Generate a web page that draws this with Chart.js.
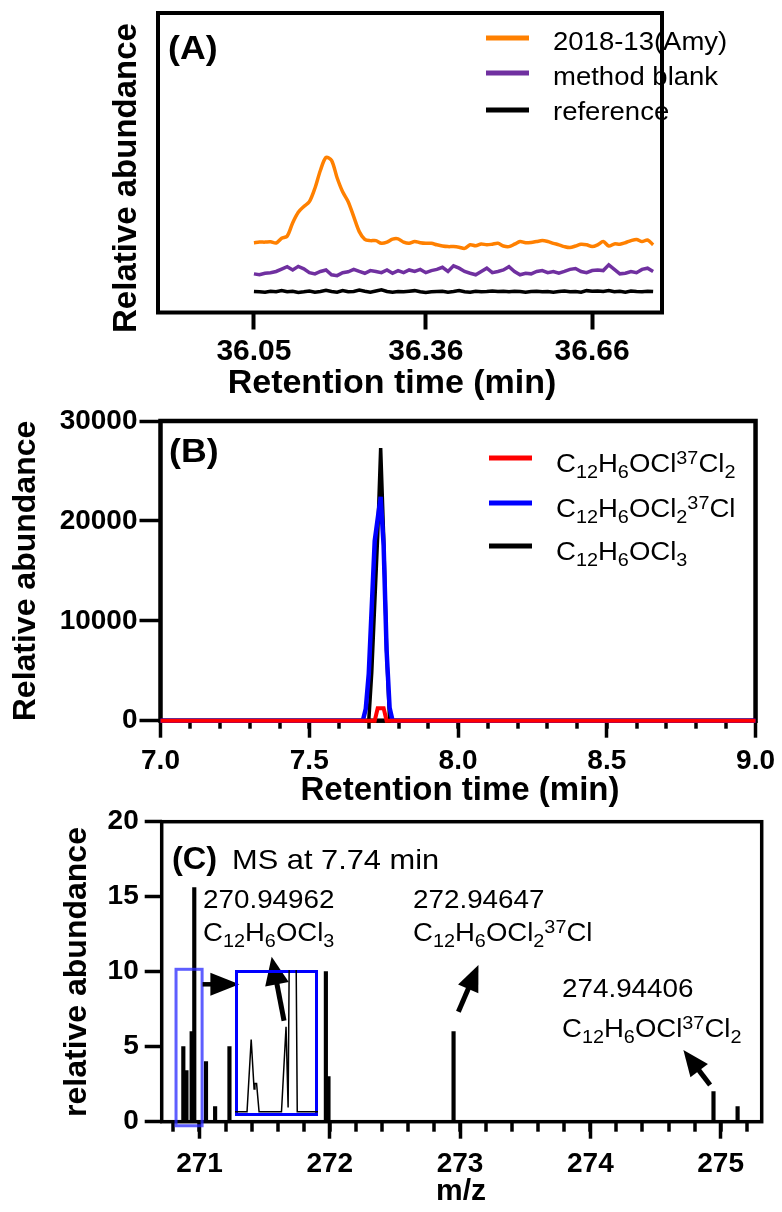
<!DOCTYPE html>
<html>
<head>
<meta charset="utf-8">
<script src="https://cdn.jsdelivr.net/npm/chart.js@4.4.0/dist/chart.umd.min.js"></script>
<style>
  body { margin: 0; background: #fff; }
  #wrap { position: relative; width: 782px; height: 1212px; overflow: hidden; }
  #wrap canvas { position: absolute; left: 0; top: 0; }
  #wrap #inset { left: 235px; top: 970px; }
</style>
</head>
<body>
<div id="wrap">
  <canvas id="chartA" width="782" height="1212"></canvas>
  <canvas id="chartB" width="782" height="1212"></canvas>
  <canvas id="chartC" width="782" height="1212"></canvas>
  <canvas id="inset" width="83" height="146"></canvas>
</div>
<script>
// ---- panel A: extracted ion chromatograms (arbitrary units) ----
var timeA = [36.05,36.06,36.07,36.08,36.09,36.10,36.11,36.12,36.13,36.14,
  36.15,36.16,36.17,36.18,36.19,36.20,36.21,36.22,36.23,36.24,
  36.25,36.26,36.27,36.28,36.29,36.30,36.31,36.32,36.33,36.34,
  36.35,36.36,36.37,36.38,36.39,36.40,36.41,36.42,36.43,36.44,
  36.45,36.46,36.47,36.48,36.49,36.50,36.51,36.52,36.53,36.54,
  36.55,36.56,36.57,36.58,36.59,36.60,36.61,36.62,36.63,36.64,
  36.65,36.66,36.67,36.68,36.69,36.70,36.71,36.72,36.73,36.74,
  36.75,36.76,36.77];
var sampleA = [23.3,23.5,23.5,23.6,23.2,24.8,25.5,30.0,33.5,35.4,
  37.0,41.5,47.5,51.8,50.8,45.0,40.3,37.0,32.0,27.0,
  24.4,24.0,24.0,23.1,23.5,24.5,24.6,23.5,23.1,23.7,
  23.3,23.1,23.1,22.6,22.2,22.0,22.0,21.8,21.4,22.6,
  22.3,22.9,22.6,22.8,23.1,22.2,22.0,22.8,23.7,23.3,
  23.4,23.7,24.0,23.7,23.1,22.6,22.0,21.7,22.2,22.8,
  22.6,22.0,22.6,23.7,22.2,22.9,22.8,23.3,24.0,24.4,
  23.7,24.2,22.6];
var blankA = [12.9,12.6,13.1,13.3,13.7,14.5,15.3,14.2,15.4,14.6,
  13.3,12.9,13.7,14.2,12.6,12.3,13.3,13.6,14.4,13.7,
  13.1,14.0,13.7,13.3,14.2,13.1,14.0,13.3,14.2,13.7,
  14.4,13.3,14.0,14.4,15.1,13.7,15.6,14.8,13.7,13.1,
  12.6,13.7,14.8,13.3,13.7,14.2,15.3,13.7,12.6,13.1,
  12.9,13.7,14.0,13.3,13.7,13.1,13.7,14.4,14.7,13.7,
  13.3,14.0,14.2,14.0,15.9,14.4,12.9,13.1,13.7,13.3,
  14.4,14.8,13.7];
var refA = [7.0,6.9,6.8,7.1,6.9,7.3,6.9,7.1,6.7,6.9,
  7.2,6.8,7.0,7.4,7.0,6.8,7.3,6.9,7.0,7.5,
  7.1,6.8,7.2,7.6,7.0,6.8,7.0,6.9,7.1,7.3,
  6.9,6.7,6.9,7.0,7.1,6.8,7.0,7.3,6.9,6.8,
  7.1,6.9,7.0,7.2,7.0,7.1,6.9,7.1,7.0,6.8,
  7.0,7.1,6.9,7.0,6.8,7.0,7.2,6.9,7.0,6.8,
  7.3,7.1,7.2,7.0,7.3,6.9,7.1,6.8,7.2,7.0,
  6.9,7.1,7.0];
var ticksA = [36.05, 36.36, 36.66];

// ---- panel B: chromatogram of the three isotopologues ----
var timeB37x2 = [7.0, 7.72, 7.73, 7.75, 7.76, 9.0];
var valB37x2  = [0, 0, 1250, 1250, 0, 0];
var timeB37   = [7.0, 7.68, 7.69, 7.70, 7.72, 7.74, 7.75, 7.76, 7.77, 7.78, 9.0];
var valB37    = [0, 0, 1200, 4700, 18000, 22400, 17500, 7000, 1300, 0, 0];
var timeB35   = [7.0, 7.70, 7.71, 7.73, 7.74, 7.75, 7.76, 7.77, 9.0];
var valB35    = [0, 0, 4800, 18500, 27300, 18500, 7000, 0, 0];

// ---- panel C: mass spectrum at 7.74 min ----
var mzC  = [270.876, 270.90, 270.94, 270.96, 271.05, 271.12, 271.23, 271.97, 271.99, 272.95, 274.945, 275.13];
var absC = [5.0, 3.4, 6.0, 15.6, 4.0, 1.0, 5.0, 10.0, 3.0, 6.0, 2.0, 1.0];
var ticksC = [271, 272, 273, 274, 275];
// inset: profile of the 270.8-271.0 region
var mzInset  = [270.820, 270.849, 270.859, 270.866, 270.868, 270.872, 270.875, 270.878, 270.932, 270.943, 270.948, 270.952, 270.966, 270.970, 271.020];
var absInset = [0, 0, 5.1, 1.6, 2.0, 2.0, 1.0, 0, 0, 6.0, 0.3, 16, 16, 0, 0];

var SANS = '"Liberation Sans", Arial, Helvetica, sans-serif';
Chart.defaults.font.family = SANS;
Chart.defaults.font.weight = 'bold';
Chart.defaults.font.size = 28;
Chart.defaults.color = '#000';

function pts(xs, ys) { return xs.map(function (x, i) { return {x: x, y: ys[i]}; }); }

// text with _{sub} and ^{sup}
function rich(ctx, str, x, y, size, weight, sx) {
  var parts = [], re = /([_^])\{([^}]*)\}|([^_^]+)/g, m;
  while ((m = re.exec(str))) {
    if (m[3]) parts.push({t: m[3], k: 0});
    else parts.push({t: m[2], k: m[1] === '_' ? 1 : -1});
  }
  ctx.save();
  ctx.translate(x, y);
  ctx.scale(sx || 1, 1);
  ctx.textBaseline = 'alphabetic';
  ctx.textAlign = 'left';
  ctx.fillStyle = '#000';
  var cx = 0;
  parts.forEach(function (p) {
    var fs = p.k ? size * 0.72 : size;
    ctx.font = (weight || 'normal') + ' ' + fs + 'px ' + SANS;
    var dy = p.k === 1 ? size * 0.22 : (p.k === -1 ? -size * 0.3 : 0);
    ctx.fillText(p.t, cx, dy);
    cx += ctx.measureText(p.t).width;
  });
  ctx.restore();
}
function vtitle(ctx, text, x, y, size) {
  ctx.save();
  ctx.translate(x, y);
  ctx.rotate(-Math.PI / 2);
  ctx.font = 'bold ' + size + 'px ' + SANS;
  ctx.textAlign = 'center';
  ctx.textBaseline = 'middle';
  ctx.fillStyle = '#000';
  ctx.fillText(text, 0, 0);
  ctx.restore();
}
function htitle(ctx, text, x, y, size) {
  ctx.save();
  ctx.font = 'bold ' + size + 'px ' + SANS;
  ctx.textAlign = 'center';
  ctx.textBaseline = 'middle';
  ctx.fillStyle = '#000';
  ctx.fillText(text, x, y);
  ctx.restore();
}
function frame(lw) {
  return {
    id: 'frame',
    beforeDatasetsDraw: function (chart) {
      var a = chart.chartArea, ctx = chart.ctx;
      ctx.save();
      ctx.lineWidth = lw;
      ctx.strokeStyle = '#000';
      ctx.strokeRect(a.left, a.top, a.right - a.left, a.bottom - a.top);
      ctx.restore();
    }
  };
}
function minorTicks(from, to, step, len, lw) {
  return {
    id: 'minor',
    beforeDatasetsDraw: function (chart) {
      var sx = chart.scales.x, b = chart.chartArea.bottom, ctx = chart.ctx;
      ctx.save();
      ctx.strokeStyle = '#000';
      ctx.lineWidth = lw;
      for (var v = from; v <= to + 1e-9; v += step) {
        var p = Math.round(sx.getPixelForValue(v));
        ctx.beginPath(); ctx.moveTo(p, b); ctx.lineTo(p, b + len); ctx.stroke();
      }
      ctx.restore();
    }
  };
}
function legendLines(x0, x1, rows, textX, lw, size, sx) {
  return {
    id: 'legendLines',
    afterDraw: function (chart) {
      var ctx = chart.ctx;
      chart.data.datasets.forEach(function (ds, i) {
        var r = rows[i];
        ctx.save();
        ctx.strokeStyle = ds.borderColor;
        ctx.lineWidth = lw;
        ctx.beginPath(); ctx.moveTo(x0, r[0]); ctx.lineTo(x1, r[0]); ctx.stroke();
        ctx.restore();
        rich(ctx, ds.label, textX, r[1], size, 'normal', sx);
      });
    }
  };
}
function arrow(ctx, x1, y1, x2, y2, hl, hw, lw) {
  var dx = x2 - x1, dy = y2 - y1, L = Math.sqrt(dx * dx + dy * dy);
  var ux = dx / L, uy = dy / L, bx = x2 - ux * hl, by = y2 - uy * hl;
  ctx.save();
  ctx.strokeStyle = '#000'; ctx.fillStyle = '#000'; ctx.lineWidth = lw;
  ctx.beginPath(); ctx.moveTo(x1, y1); ctx.lineTo(bx + ux, by + uy); ctx.stroke();
  ctx.beginPath();
  ctx.moveTo(x2, y2);
  ctx.lineTo(bx - uy * hw / 2, by + ux * hw / 2);
  ctx.lineTo(bx + uy * hw / 2, by - ux * hw / 2);
  ctx.closePath(); ctx.fill();
  ctx.restore();
}

var lineDs = {pointRadius: 0, fill: false, tension: 0, clip: 6};

// ================= A =================
new Chart(document.getElementById('chartA'), {
  type: 'line',
  data: {
    datasets: [
      Object.assign({label: '2018-13(Amy)', data: pts(timeA, sampleA), borderColor: '#ff8000', borderWidth: 3.5, tension: 0.3}, {pointRadius: 0, fill: false, clip: 6}),
      Object.assign({label: 'method blank', data: pts(timeA, blankA), borderColor: '#7030a0', borderWidth: 3.5}, lineDs),
      Object.assign({label: 'reference', data: pts(timeA, refA), borderColor: '#000000', borderWidth: 3.5}, lineDs)
    ]
  },
  options: {
    responsive: false, animation: false,
    layout: {padding: {top: 13, right: 120, bottom: 812, left: 0}},
    plugins: {legend: {display: false}, tooltip: {enabled: false}},
    scales: {
      x: {
        type: 'linear', min: 35.877, max: 36.786,
        afterBuildTicks: function (s) { s.ticks = ticksA.map(function (v) { return {value: v}; }); },
        afterFit: function (s) { s.height = 87.5; },
        border: {display: false},
        grid: {drawOnChartArea: false, tickLength: 17, tickWidth: 4, tickColor: '#000'},
        ticks: {font: {size: 30}, padding: 4, maxRotation: 0, callback: function (v) { return v.toFixed(2); }}
      },
      y: {
        min: 0, max: 100,
        afterFit: function (s) { s.width = 158; },
        border: {display: false},
        grid: {display: false},
        ticks: {display: false}
      }
    }
  },
  plugins: [frame(4), legendLines(486, 529, [[38, 50], [73, 85], [110, 120]], 553, 5, 25, 1.1), {
    id: 'labelsA',
    afterDraw: function (chart) {
      var ctx = chart.ctx;
      vtitle(ctx, 'Relative abundance', 127, 178, 33);
      htitle(ctx, 'Retention time (min)', 392, 384, 34);
      rich(ctx, '(A)', 168, 59, 34, 'bold', 1.05);
    }
  }]
});

// ================= B =================
new Chart(document.getElementById('chartB'), {
  type: 'line',
  data: {
    datasets: [
      Object.assign({label: 'C_{12}H_{6}OCl^{37}Cl_{2}', data: pts(timeB37x2, valB37x2), borderColor: '#ff0000', borderWidth: 4}, lineDs),
      Object.assign({label: 'C_{12}H_{6}OCl_{2}^{37}Cl', data: pts(timeB37, valB37), borderColor: '#0000ff', borderWidth: 4.5}, lineDs),
      Object.assign({label: 'C_{12}H_{6}OCl_{3}', data: pts(timeB35, valB35), borderColor: '#000000', borderWidth: 3.5}, lineDs)
    ]
  },
  options: {
    responsive: false, animation: false,
    layout: {padding: {top: 421, right: 22.5, bottom: 400, left: 0}},
    plugins: {legend: {display: false}, tooltip: {enabled: false}},
    scales: {
      x: {
        type: 'linear', min: 7, max: 9,
        ticks: {stepSize: 0.5, padding: 7, maxRotation: 0, callback: function (v) { return v.toFixed(1); }},
        afterFit: function (s) { s.height = 91.3; },
        border: {display: false},
        grid: {drawOnChartArea: false, tickLength: 17, tickWidth: 3.5, tickColor: '#000'}
      },
      y: {
        min: 0, max: 30000,
        ticks: {stepSize: 10000, padding: 2, callback: function (v) { return String(v); }},
        afterFit: function (s) { s.width = 160.5; },
        border: {display: false},
        grid: {drawOnChartArea: false, tickLength: 21, tickWidth: 3.5, tickColor: '#000'}
      }
    }
  },
  plugins: [frame(4.5), minorTicks(7.1, 8.9, 0.1, 8, 3.5), legendLines(489, 532, [[458, 472], [503, 517], [546, 560]], 556, 5, 26, 1.06), {
    id: 'labelsB',
    afterDraw: function (chart) {
      var ctx = chart.ctx;
      vtitle(ctx, 'Relative abundance', 26, 571, 32);
      htitle(ctx, 'Retention time (min)', 460, 791, 33);
      rich(ctx, '(B)', 169, 462, 34, 'bold', 1.05);
    }
  }]
});

// ================= C =================
new Chart(document.getElementById('chartC'), {
  type: 'bar',
  data: {
    datasets: [{label: 'MS', data: pts(mzC, absC), backgroundColor: '#000', borderWidth: 0, barThickness: 3.5, grouped: false}]
  },
  options: {
    responsive: false, animation: false,
    layout: {padding: {top: 821.7, right: 20.3, bottom: 0, left: 0}},
    plugins: {legend: {display: false}, tooltip: {enabled: false}},
    scales: {
      x: {
        type: 'linear', min: 270.71, max: 275.315, offset: false,
        afterBuildTicks: function (s) { s.ticks = ticksC.map(function (v) { return {value: v}; }); },
        afterFit: function (s) { s.height = 90.3; },
        ticks: {padding: 9, maxRotation: 0, callback: function (v) { return String(v); }},
        border: {display: false},
        grid: {drawOnChartArea: false, offset: false, tickLength: 17, tickWidth: 3.5, tickColor: '#000'}
      },
      y: {
        min: 0, max: 20,
        ticks: {stepSize: 5, padding: 6},
        afterFit: function (s) { s.width = 161.7; },
        border: {display: false},
        grid: {drawOnChartArea: false, tickLength: 17, tickWidth: 3.5, tickColor: '#000'}
      }
    }
  },
  plugins: [frame(3.5), minorTicks(270.8, 275.2, 0.2, 10, 3.5), {
    id: 'notesC',
    afterDatasetsDraw: function (chart) {
      var ctx = chart.ctx, X = chart.scales.x, Y = chart.scales.y;
      function px(v) { return X.getPixelForValue(v); }
      function py(v) { return Y.getPixelForValue(v); }
      // highlighted region around 270.9
      ctx.save();
      ctx.strokeStyle = 'rgba(40,40,255,0.75)';
      ctx.lineWidth = 3;
      ctx.strokeRect(px(270.82), py(10.16), px(271.02) - px(270.82), py(-0.27) - py(10.16));
      ctx.restore();
      arrow(ctx, px(271.024), py(9.16), px(271.306), py(9.16), 29, 23, 4.5);
      arrow(ctx, px(271.649), py(6.73), px(271.554), py(11.0), 28, 24, 5);
      arrow(ctx, px(272.987), py(7.33), px(273.141), py(10.45), 26, 22, 5);
      arrow(ctx, px(274.919), py(2.45), px(274.714), py(4.78), 26, 22, 5);
    },
    afterDraw: function (chart) {
      var ctx = chart.ctx;
      vtitle(ctx, 'relative abundance', 77, 972, 32);
      htitle(ctx, 'm/z', 461, 1192, 30);
      rich(ctx, '(C)', 172, 869, 31, 'bold', 1.05);
      rich(ctx, 'MS at 7.74 min', 232, 869, 28, 'normal', 1.1);
      rich(ctx, '270.94962', 203, 908, 26, 'normal', 1.07);
      rich(ctx, 'C_{12}H_{6}OCl_{3}', 203, 941, 26, 'normal', 1.06);
      rich(ctx, '272.94647', 413, 908, 26, 'normal', 1.07);
      rich(ctx, 'C_{12}H_{6}OCl_{2}^{37}Cl', 413, 941, 26, 'normal', 1.06);
      rich(ctx, '274.94406', 562, 997, 26, 'normal', 1.07);
      rich(ctx, 'C_{12}H_{6}OCl^{37}Cl_{2}', 562, 1037, 26, 'normal', 1.06);
    }
  }]
});

// ================= inset =================
new Chart(document.getElementById('inset'), {
  type: 'line',
  data: {datasets: [Object.assign({label: 'zoom', data: pts(mzInset, absInset), borderColor: '#000', borderWidth: 1.5}, lineDs, {clip: 0})]},
  options: {
    responsive: false, animation: false,
    layout: {padding: 0},
    plugins: {legend: {display: false}, tooltip: {enabled: false}},
    scales: {
      x: {type: 'linear', min: 270.82, max: 271.02, display: false},
      y: {min: -0.3, max: 10, display: false}
    }
  },
  plugins: [{
    id: 'insetFrame',
    beforeDatasetsDraw: function (chart) {
      var ctx = chart.ctx, w = chart.width, h = chart.height;
      ctx.save();
      ctx.strokeStyle = '#0000ff';
      ctx.lineWidth = 3;
      ctx.strokeRect(1.5, 1.5, w - 3, h - 3);
      ctx.restore();
    }
  }]
});
</script>
</body>
</html>
